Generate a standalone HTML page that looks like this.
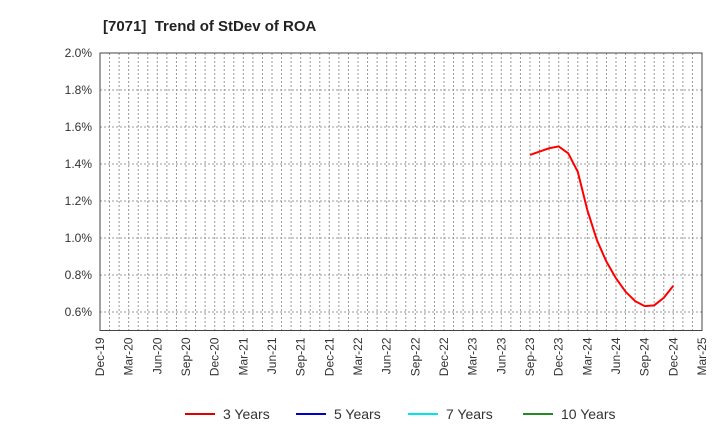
<!DOCTYPE html>
<html><head><meta charset="utf-8"><style>
body{margin:0;background:#fff;font-family:"Liberation Sans",sans-serif}
</style></head><body>
<svg id="chart" width="720" height="440" xmlns="http://www.w3.org/2000/svg">
<text x="103" y="31" font-size="15" font-weight="bold" fill="#222">[7071]&#160; Trend of StDev of ROA</text>
<g id="grid"></g><g id="axes"></g><g id="series"></g><g id="legend"></g>
</svg>
<script>
const xLabels=["Dec-19","Mar-20","Jun-20","Sep-20","Dec-20","Mar-21","Jun-21","Sep-21","Dec-21","Mar-22","Jun-22","Sep-22","Dec-22","Mar-23","Jun-23","Sep-23","Dec-23","Mar-24","Jun-24","Sep-24","Dec-24","Mar-25"];
const yTicks=[0.6,0.8,1.0,1.2,1.4,1.6,1.8,2.0];
const startMonth=45; // months after Dec-19 (Sep-23)
const values3=[1.449,1.467,1.485,1.495,1.458,1.358,1.151,0.989,0.872,0.782,0.710,0.659,0.632,0.636,0.677,0.742];
const legendNames=["3 Years","5 Years","7 Years","10 Years"];
const legendColors=["#e00000","#0000cc","#00e5ee","#228b22"];
const NS="http://www.w3.org/2000/svg";
const L=100,R=702,T=53,B=330.5,yMin=0.5,yMax=2.0,months=63;
const xs=m=>L+(R-L)*m/months;
const ys=v=>B-(B-T)*(v-yMin)/(yMax-yMin);
function mk(tag,attrs,parent){const e=document.createElementNS(NS,tag);for(const k in attrs)e.setAttribute(k,attrs[k]);parent.appendChild(e);return e;}
const grid=document.getElementById('grid'),axes=document.getElementById('axes'),ser=document.getElementById('series'),leg=document.getElementById('legend');
for(let m=1;m<months;m++){const l=mk('line',{x1:xs(m),x2:xs(m),y1:T,y2:B,stroke:'#999','stroke-dasharray':'2,2','stroke-width':1},grid);

}
yTicks.forEach(v=>{const l=mk('line',{x1:L,x2:R,y1:ys(v),y2:ys(v),stroke:'#999','stroke-dasharray':'2,2','stroke-width':1},grid);


const t=mk('text',{x:L-8,y:ys(v)+4,'text-anchor':'end','font-size':12,fill:'#333'},axes);t.textContent=v.toFixed(1)+'%';

});
const fr=mk('rect',{x:L,y:T,width:R-L,height:B-T,fill:'none',stroke:'#444','stroke-width':1},axes);


xLabels.forEach((s,i)=>{const x=xs(i*3);const t=mk('text',{x:x+4,y:B+7,'text-anchor':'end','font-size':12,fill:'#333',transform:`rotate(-90 ${x+4} ${B+7})`},axes);t.textContent=s;

});
const pts=values3.map((v,i)=>xs(startMonth+i)+','+ys(v)).join(' ');
const pl=mk('polyline',{points:pts,fill:'none',stroke:'#ff0000','stroke-width':2},ser);


const lx=[185,296,408,523];
legendNames.forEach((n,i)=>{const g=mk('g',{},leg);


mk('line',{x1:lx[i],x2:lx[i]+30,y1:414,y2:414,stroke:legendColors[i],'stroke-width':2},g);
const t=mk('text',{x:lx[i]+38,y:419,'font-size':14,fill:'#333'},g);t.textContent=n;});
</script>
</body></html>
